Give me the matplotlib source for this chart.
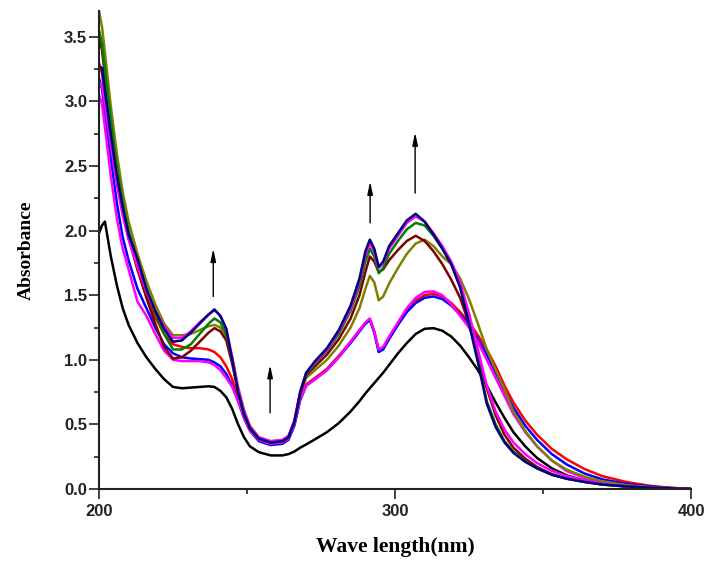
import matplotlib
matplotlib.use("Agg")
import matplotlib.pyplot as plt
from matplotlib.ticker import MultipleLocator, FormatStrFormatter

# wavelength grid (nm)
wavelength = [200, 201, 202, 204, 206, 208, 210, 213, 216, 219, 222, 225, 228, 231, 234, 237, 239, 241, 243, 245,
              247, 249, 251, 254, 258, 262, 264, 266, 268, 270, 273, 277, 281, 285, 288, 290, 291.5, 293, 294.5, 296,
              298, 301, 304, 307, 310, 313, 316, 319, 322, 325, 328, 331, 334, 337, 340, 344, 348, 353, 358, 364,
              370, 378, 386, 393, 400]

black = [1.98, 2.04, 2.07, 1.80, 1.58, 1.40, 1.27, 1.13, 1.02, 0.93, 0.85, 0.79, 0.78, 0.785, 0.79, 0.795, 0.79, 0.76, 0.71, 0.62,
         0.50, 0.40, 0.33, 0.285, 0.26, 0.26, 0.27, 0.29, 0.32, 0.345, 0.385, 0.44, 0.51, 0.60, 0.68, 0.74, 0.78, 0.82, 0.86, 0.90,
         0.96, 1.05, 1.13, 1.20, 1.24, 1.245, 1.225, 1.18, 1.11, 1.02, 0.92, 0.80, 0.67, 0.55, 0.44, 0.33, 0.24, 0.16, 0.105, 0.065,
         0.04, 0.02, 0.01, 0.005, 0.0]

red = [3.30, 3.22, 3.05, 2.72, 2.40, 2.14, 1.94, 1.70, 1.50, 1.33, 1.20, 1.12, 1.10, 1.09, 1.09, 1.08, 1.06, 1.02, 0.95, 0.85,
       0.70, 0.56, 0.46, 0.38, 0.35, 0.36, 0.39, 0.50, 0.70, 0.81, 0.86, 0.93, 1.03, 1.14, 1.23, 1.28, 1.31, 1.22, 1.07, 1.09,
       1.17, 1.28, 1.39, 1.46, 1.50, 1.51, 1.49, 1.44, 1.37, 1.29, 1.19, 1.08, 0.95, 0.80, 0.67, 0.53, 0.42, 0.31, 0.23, 0.155,
       0.10, 0.055, 0.025, 0.01, 0.0]

blue = [3.18, 3.10, 2.92, 2.56, 2.22, 1.95, 1.77, 1.55, 1.40, 1.25, 1.12, 1.05, 1.02, 1.01, 1.005, 1.0, 0.98, 0.95, 0.89, 0.80,
        0.68, 0.55, 0.45, 0.37, 0.34, 0.35, 0.38, 0.49, 0.69, 0.80, 0.85, 0.92, 1.02, 1.13, 1.22, 1.28, 1.31, 1.21, 1.06, 1.08,
        1.16, 1.27, 1.37, 1.44, 1.48, 1.49, 1.47, 1.42, 1.35, 1.27, 1.16, 1.04, 0.90, 0.76, 0.63, 0.49, 0.38, 0.27, 0.19, 0.12,
        0.075, 0.04, 0.02, 0.008, 0.0]

magenta_low = [3.05, 2.98, 2.80, 2.42, 2.10, 1.86, 1.70, 1.45, 1.34, 1.20, 1.07, 1.00, 0.99, 0.99, 0.99, 0.98, 0.96, 0.92, 0.86, 0.79,
               0.68, 0.55, 0.45, 0.38, 0.35, 0.36, 0.39, 0.50, 0.70, 0.80, 0.85, 0.92, 1.02, 1.14, 1.23, 1.29, 1.32, 1.22, 1.08, 1.10,
               1.18, 1.29, 1.40, 1.48, 1.525, 1.53, 1.50, 1.43, 1.34, 1.25, 1.14, 1.00, 0.86, 0.72, 0.58, 0.44, 0.33, 0.22, 0.14, 0.085,
               0.05, 0.025, 0.012, 0.005, 0.0]

olive = [3.70, 3.58, 3.38, 2.96, 2.60, 2.30, 2.07, 1.82, 1.61, 1.43, 1.28, 1.19, 1.19, 1.20, 1.23, 1.26, 1.27, 1.25, 1.18, 1.02,
         0.79, 0.61, 0.49, 0.40, 0.37, 0.38, 0.41, 0.52, 0.74, 0.86, 0.92, 1.00, 1.11, 1.25, 1.40, 1.55, 1.65, 1.60, 1.46, 1.49,
         1.59, 1.71, 1.82, 1.90, 1.93, 1.88, 1.80, 1.74, 1.63, 1.47, 1.28, 1.08, 0.92, 0.77, 0.60, 0.45, 0.33, 0.22, 0.15, 0.095,
         0.06, 0.03, 0.015, 0.006, 0.0]

brown = [3.50, 3.40, 3.20, 2.80, 2.46, 2.18, 1.96, 1.70, 1.48, 1.28, 1.10, 1.01, 1.02, 1.07, 1.14, 1.21, 1.245, 1.22, 1.15, 0.97,
         0.75, 0.58, 0.47, 0.39, 0.36, 0.37, 0.40, 0.52, 0.74, 0.88, 0.95, 1.04, 1.16, 1.32, 1.50, 1.68, 1.80, 1.76, 1.68, 1.70,
         1.77, 1.85, 1.92, 1.96, 1.92, 1.84, 1.74, 1.62, 1.48, 1.28, 1.04, 0.78, 0.57, 0.42, 0.32, 0.235, 0.17, 0.115, 0.08, 0.055,
         0.035, 0.02, 0.01, 0.005, 0.0]

green = [3.55, 3.45, 3.25, 2.85, 2.50, 2.22, 2.00, 1.76, 1.55, 1.36, 1.20, 1.08, 1.08, 1.12, 1.20, 1.28, 1.32, 1.29, 1.20, 1.00,
         0.76, 0.58, 0.47, 0.39, 0.36, 0.37, 0.40, 0.52, 0.75, 0.89, 0.97, 1.07, 1.20, 1.38, 1.57, 1.76, 1.86, 1.80, 1.67, 1.71,
         1.82, 1.92, 2.01, 2.06, 2.04, 1.96, 1.86, 1.74, 1.57, 1.30, 1.00, 0.68, 0.50, 0.37, 0.29, 0.215, 0.16, 0.11, 0.08, 0.055,
         0.035, 0.02, 0.01, 0.005, 0.0]

magenta_high = [3.15, 3.12, 2.98, 2.66, 2.36, 2.12, 1.93, 1.72, 1.53, 1.38, 1.26, 1.17, 1.17, 1.22, 1.29, 1.35, 1.385, 1.34, 1.24, 1.02,
                0.77, 0.60, 0.48, 0.40, 0.37, 0.38, 0.41, 0.53, 0.76, 0.90, 0.98, 1.08, 1.22, 1.40, 1.61, 1.81, 1.90, 1.84, 1.71, 1.75,
                1.86, 1.96, 2.06, 2.11, 2.07, 1.98, 1.88, 1.76, 1.60, 1.36, 1.08, 0.80, 0.60, 0.46, 0.36, 0.27, 0.20, 0.14, 0.10, 0.065,
                0.04, 0.02, 0.01, 0.005, 0.0]

navy = [3.27, 3.26, 3.08, 2.74, 2.43, 2.18, 1.97, 1.78, 1.55, 1.38, 1.24, 1.14, 1.15, 1.21, 1.28, 1.35, 1.39, 1.34, 1.24, 1.00,
        0.75, 0.58, 0.47, 0.39, 0.36, 0.37, 0.40, 0.52, 0.75, 0.90, 0.99, 1.09, 1.23, 1.42, 1.63, 1.84, 1.93, 1.86, 1.72, 1.76,
        1.88, 1.98, 2.08, 2.13, 2.07, 1.97, 1.86, 1.74, 1.56, 1.28, 0.98, 0.66, 0.48, 0.36, 0.28, 0.21, 0.16, 0.11, 0.08, 0.055,
        0.035, 0.02, 0.01, 0.005, 0.0]

series = [
    (black, "#000000"),
    (red, "#FF0000"),
    (blue, "#0000FF"),
    (magenta_low, "#FF00FF"),
    (olive, "#808000"),
    (brown, "#800000"),
    (green, "#008000"),
    (magenta_high, "#FF00FF"),
    (navy, "#000080"),
]

# arrows: (x, y_start, y_end)
arrow_x = [238.6, 257.8, 291.6, 306.8]
arrow_y0 = [1.49, 0.59, 2.06, 2.29]
arrow_y1 = [1.86, 0.96, 2.38, 2.76]

fig = plt.figure(figsize=(7.09, 5.61), dpi=100)
ax = fig.add_axes([99 / 709, 72 / 561, (691 - 99) / 709, (489 - 11) / 561])

for vals, col in series:
    ax.plot(wavelength, vals, color=col, lw=1.8, solid_joinstyle="round", solid_capstyle="round")

for x, y0, y1 in zip(arrow_x, arrow_y0, arrow_y1):
    ax.annotate("", xy=(x, y1), xytext=(x, y0),
                arrowprops=dict(arrowstyle="-|>,head_width=0.16,head_length=0.75",
                                color="black", lw=1.0, shrinkA=0, shrinkB=0))

ax.set_xlim(200, 400)
ax.set_ylim(0, 3.7)
ax.spines["top"].set_visible(False)
ax.spines["right"].set_visible(False)
for s in ("left", "bottom"):
    ax.spines[s].set_linewidth(1.5)
    ax.spines[s].set_color("#222222")

ax.xaxis.set_major_locator(MultipleLocator(100))
ax.xaxis.set_minor_locator(MultipleLocator(50))
ax.yaxis.set_major_locator(MultipleLocator(0.5))
ax.yaxis.set_minor_locator(MultipleLocator(0.25))
ax.yaxis.set_major_formatter(FormatStrFormatter("%.1f"))

ax.tick_params(which="major", direction="out", length=7, width=1.2, color="#222222")
ax.tick_params(which="minor", direction="out", length=3.6, width=1.2, color="#222222")
ax.tick_params(axis="y", which="major", pad=1.5)
ax.tick_params(axis="x", which="major", pad=3.5)

for lab in ax.get_xticklabels() + ax.get_yticklabels():
    lab.set_fontfamily("Liberation Sans")
    lab.set_fontweight("bold")
    lab.set_fontsize(12)
    lab.set_color("#222222")

ax.set_xlabel("Wave length(nm)", fontfamily="Liberation Serif", fontweight="bold", fontsize=15.5, labelpad=13)
ax.set_ylabel("Absorbance", fontfamily="Liberation Serif", fontweight="bold", fontsize=14, labelpad=21)

fig.savefig("out.png", dpi=100)
